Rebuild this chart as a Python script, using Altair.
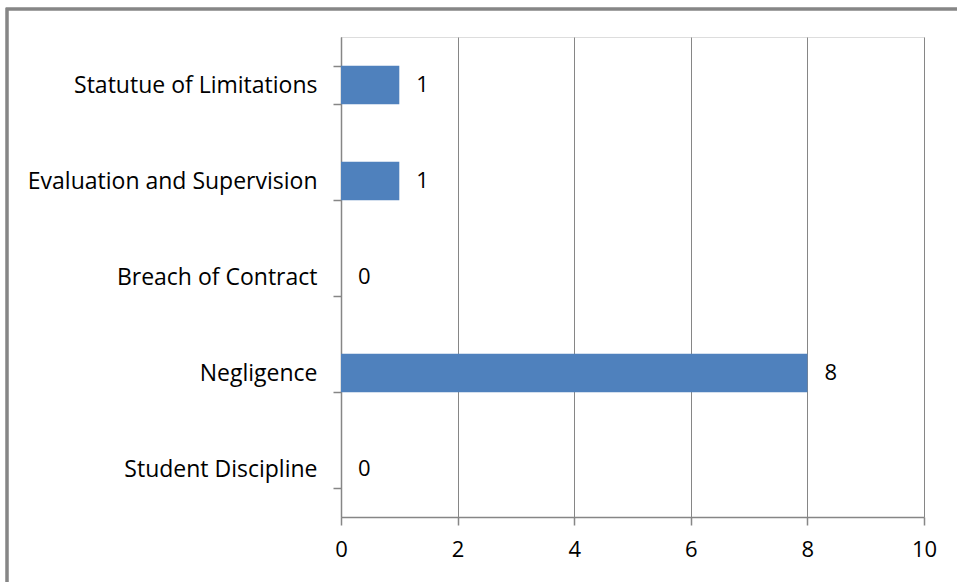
import altair as alt
import pandas as pd

categories = ["Statutue of Limitations", "Evaluation and Supervision", "Breach of Contract", "Negligence", "Student Discipline"]
values = [1, 1, 0, 8, 0]
x_ticks = [0, 2, 4, 6, 8, 10]

df = pd.DataFrame({"category": categories, "value": values})

FONT = "Open Sans"
FS_CAT = 23
FS_NUM = 22
GRAY = "#868686"

y_enc = alt.Y("category:N", sort=categories, title=None,
              scale=alt.Scale(paddingInner=0.6, paddingOuter=0.3),
              axis=alt.Axis(tickBand="extent", domainColor=GRAY, tickColor=GRAY,
                            tickSize=8, labelPadding=16, labelFontSize=FS_CAT,
                            labelFont=FONT, labelColor="#000000", grid=False,
                            domainWidth=1.5, tickWidth=1.5, labelLimit=0))
x_enc = alt.X("value:Q", title=None,
              scale=alt.Scale(domain=[0, 10], nice=False),
              axis=alt.Axis(values=x_ticks, format="d", grid=True, gridColor=GRAY, gridOpacity=1,
                            domainColor=GRAY, tickColor=GRAY, tickSize=8,
                            labelPadding=14, labelFontSize=FS_NUM, labelFont=FONT,
                            labelColor="#000000", domainWidth=1.5, tickWidth=1.5,
                            labelFlush=False))

bars = alt.Chart(df).mark_bar(color="#4F81BD").encode(x=x_enc, y=y_enc)

labels = alt.Chart(df).mark_text(align="left", baseline="middle", dx=17,
                                 fontSize=FS_NUM, font=FONT, color="#000000").encode(
    x="value:Q", y=alt.Y("category:N", sort=categories), text="value:Q")

border = alt.Chart(df).mark_rect(fill=None, stroke=GRAY, strokeWidth=2.5).encode(
    x=alt.value(-334), x2=alt.value(700), y=alt.value(-28), y2=alt.value(600))

chart = alt.layer(border, bars, labels).properties(
    width=583, height=480,
    autosize=alt.AutoSizeParams(type="none"),
    padding={"left": 341, "top": 37, "right": 33, "bottom": 65},
).configure_view(stroke=None).configure(background="white")

chart.save("out.html", embed_options={"renderer": "svg", "actions": False})
